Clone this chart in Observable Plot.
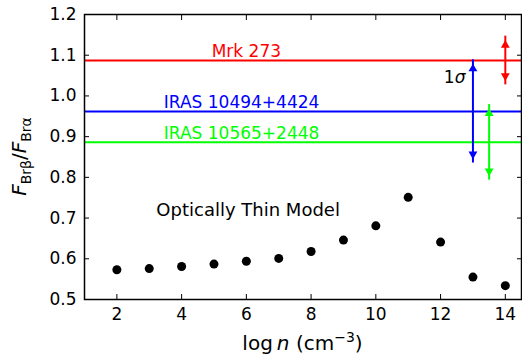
<!DOCTYPE html>
<html><head><meta charset="utf-8">
<script src="https://cdn.jsdelivr.net/npm/d3@7"></script>
<script src="https://cdn.jsdelivr.net/npm/@observablehq/plot@0.6"></script>
<style>body{margin:0;background:#fff;font-family:"DejaVu Sans";}</style>
</head><body><div id="chart"></div>
<script>
// Optically thin model
const logN = [2,3,4,5,6,7,8,9,10,11,12,13,14];
const ratio = [0.573,0.576,0.581,0.587,0.594,0.601,0.618,0.646,0.681,0.751,0.641,0.555,0.534];
// Observed objects
const objects = ["Mrk 273","IRAS 10494+4424","IRAS 10565+2448"];
const objRatio = [1.087,0.962,0.886];
const objSigma = [0.05,0.117,0.083];
const objColor = ["#ff0000","#0000ff","#00ff00"];
const arrowX = [14,13,13.5];
const labelX = [6.0,3.45,3.45];
const xTicks = [2,4,6,8,10,12,14];
const yTicks = [0.5,0.6,0.7,0.8,0.9,1.0,1.1,1.2];

const idx = objects.map((d,i)=>i);
const font = "DejaVu Sans";

const plot = Plot.plot({
  width: 522, height: 354,
  marginLeft: 84, marginRight: 1, marginTop: 14, marginBottom: 55,
  style: {fontFamily: font, background: "#fff", overflow: "visible"},
  x: {domain: [1,14.5]},
  y: {domain: [0.5,1.2]},
  marks: [
    Plot.ruleY(idx, {y: i=>objRatio[i], stroke: i=>objColor[i], strokeWidth: 2}),
    Plot.text([0], {x: i=>labelX[i], y: i=>objRatio[i], text: i=>objects[i], fill: objColor[0],
      textAnchor: "middle", lineAnchor: "bottom", dy: -4, fontSize: 17}),
    Plot.text([1,2], {x: i=>labelX[i], y: i=>objRatio[i], text: i=>objects[i], fill: i=>objColor[i],
      textAnchor: "start", lineAnchor: "bottom", dy: -3, fontSize: 17}),
    Plot.ruleX(idx, {x: i=>arrowX[i], y1: i=>objRatio[i]-objSigma[i], y2: i=>objRatio[i]+objSigma[i],
      stroke: i=>objColor[i], strokeWidth: 2, insetTop: 4, insetBottom: 4}),
    Plot.dot(idx, {x: i=>arrowX[i], y: i=>objRatio[i]+objSigma[i], fill: i=>objColor[i], symbol: "triangle", r: 3.3, dy: 5, stroke: null}),
    Plot.dot(idx, {x: i=>arrowX[i], y: i=>objRatio[i]-objSigma[i], fill: i=>objColor[i], symbol: "triangle", r: 3.3, rotate: 180, dy: -5, stroke: null}),
    Plot.text(["Optically Thin Model"], {x: 3.22, y: 0.704, text: d=>d, textAnchor: "start", lineAnchor: "bottom", fontSize: 18, fill: "black"}),
    Plot.dot(logN.map((d,i)=>i), {x: i=>logN[i], y: i=>ratio[i], r: 4.5, fill: "black", stroke: null}),
    Plot.axisX(xTicks, {anchor: "bottom", tickSize: -5, tickPadding: 13, fontSize: 17, label: null, stroke: "black", fill: "black"}),
    Plot.axisX(xTicks, {anchor: "top", tickSize: -5, tickFormat: () => "", label: null, stroke: "black"}),
    Plot.axisY(yTicks, {anchor: "left", tickSize: -5, tickPadding: 13, fontSize: 17, tickFormat: d=>d.toFixed(1), label: null, stroke: "black", fill: "black"}),
    Plot.axisY(yTicks, {anchor: "right", tickSize: -5, tickFormat: () => "", label: null, stroke: "black"}),
    Plot.frame({stroke: "black", strokeWidth: 1.5})
  ]
});
document.getElementById("chart").appendChild(plot);

const svg = d3.select(plot);
const xs = plot.scale("x"), ys = plot.scale("y");

// 1-sigma annotation
const sig = svg.append("text")
  .attr("x", xs.apply(12.45)).attr("y", ys.apply(1.03))
  .attr("text-anchor", "middle").attr("font-size", 17).attr("font-family", font).attr("fill", "black");
sig.append("tspan").text("1");
sig.append("tspan").attr("font-style", "italic").text("σ");

// X axis title
const xt = svg.append("text")
  .attr("x", (xs.range[0]+xs.range[1])/2).attr("y", 350)
  .attr("text-anchor", "middle").attr("font-size", 20).attr("font-family", font).attr("fill", "black");
xt.append("tspan").text("log\u2009");
xt.append("tspan").attr("font-style", "italic").text("n");
xt.append("tspan").text(" (cm");
xt.append("tspan").attr("font-size", 14).attr("dy", -8).text("\u22123");
xt.append("tspan").attr("dy", 8).text(")");

// Y axis title
const yt = svg.append("text")
  .attr("transform", `translate(26,${(ys.range[0]+ys.range[1])/2}) rotate(-90)`)
  .attr("text-anchor", "middle").attr("font-size", 20).attr("font-family", font).attr("fill", "black");
yt.append("tspan").attr("font-style", "italic").text("F");
yt.append("tspan").attr("font-size", 14).attr("dy", 5).text("Brβ");
yt.append("tspan").attr("dy", -5).text("/");
yt.append("tspan").attr("font-style", "italic").text("F");
yt.append("tspan").attr("font-size", 14).attr("dy", 5).text("Brα");
</script>
</body></html>
